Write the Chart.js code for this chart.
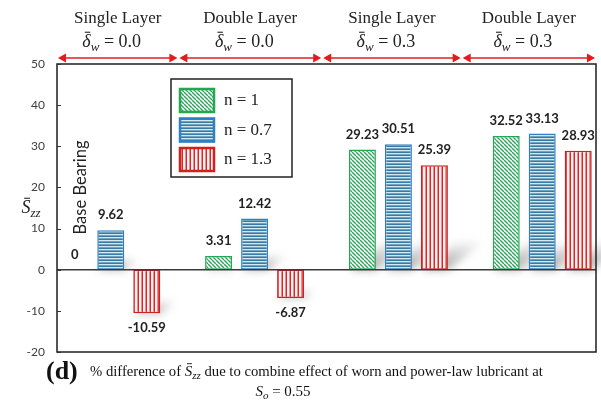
<!DOCTYPE html>
<html>
<head>
<meta charset="utf-8">
<script src="https://cdn.jsdelivr.net/npm/chart.js@4.4.1/dist/chart.umd.min.js"></script>
<style>
  html, body { margin: 0; padding: 0; background: #fff; }
  canvas { display: block; }
</style>
</head>
<body>
<canvas id="chart" width="601" height="406"></canvas>
<script>
// Section headers across the top (layer type and wear depth)
const sectionLayers = ['Single Layer', 'Double Layer', 'Single Layer', 'Double Layer'];
const sectionWear = ['0.0', '0.0', '0.3', '0.3'];

// Power-law index series: % difference of S_zz per section
const seriesNames = ['n = 1', 'n = 0.7', 'n = 1.3'];
const valuesN1 = [0, 3.31, 29.23, 32.52];
const valuesN07 = [9.62, 12.42, 30.51, 33.13];
const valuesN13 = [-10.59, -6.87, 25.39, 28.93];

// Value axis ticks
const yTicks = [-20, -10, 0, 10, 20, 30, 40, 50];

const SERIF = '"Liberation Serif", "Times New Roman", serif';
const SANS = 'Lato, "Open Sans", sans-serif';

const canvas = document.getElementById('chart');
const mainCtx = canvas.getContext('2d');

// Hatch fills for the three series
function makePattern(kind) {
  const t = document.createElement('canvas');
  const g = t.getContext('2d');
  if (kind === 'diag') {
    t.width = t.height = 4;
    g.fillStyle = '#ffffff';
    g.fillRect(0, 0, 4, 4);
    g.strokeStyle = '#2aa85a';
    g.lineWidth = 1.4;
    for (const k of [-4, 0, 4]) {
      g.beginPath(); g.moveTo(k, 0); g.lineTo(k + 4, 4); g.stroke();
    }
  } else if (kind === 'horiz') {
    t.width = 4; t.height = 3;
    g.fillStyle = '#d3e8ef';
    g.fillRect(0, 0, 4, 3);
    g.fillStyle = '#6fa3c0';
    g.fillRect(0, 1, 4, 1);
    g.fillStyle = '#3a7aa2';
    g.fillRect(0, 2, 4, 1);
  } else {
    t.width = 4; t.height = 4;
    g.fillStyle = '#fff3f3';
    g.fillRect(0, 0, 4, 4);
    g.fillStyle = '#f08a8a';
    g.fillRect(1, 0, 1, 4);
    g.fillStyle = '#de2424';
    g.fillRect(2, 0, 1, 4);
  }
  return mainCtx.createPattern(t, 'repeat');
}

const fills = [makePattern('diag'), makePattern('horiz'), makePattern('vert')];
const borders = ['#27a552', '#2f7fc6', '#d41f1f'];
const seriesValues = [valuesN1, valuesN07, valuesN13];

const datasets = seriesValues.map((vals, si) => ({
  label: seriesNames[si],
  data: vals.map((v, i) => ({ x: i, y: v })),
  backgroundColor: fills[si],
  borderColor: borders[si],
  borderWidth: 1.5,
  borderSkipped: false,
  categoryPercentage: 0.751,
  barPercentage: 0.75
}));

// Rich text: a run of differently styled pieces on one baseline;
// pieces flagged with `bar` get an overbar
function richWidth(ctx, parts) {
  let w = 0;
  for (const p of parts) { ctx.font = p.font; w += ctx.measureText(p.t).width; }
  return w;
}
function drawRich(ctx, parts, x, y, align) {
  const w = richWidth(ctx, parts);
  let cx = align === 'center' ? x - w / 2 : (align === 'right' ? x - w : x);
  ctx.textAlign = 'left';
  for (const p of parts) {
    ctx.font = p.font;
    const py = y + (p.dy || 0);
    ctx.fillText(p.t, cx, py);
    const pw = ctx.measureText(p.t).width;
    if (p.bar) {
      const lift = p.size * 0.82;
      ctx.save();
      ctx.strokeStyle = ctx.fillStyle;
      ctx.lineWidth = Math.max(0.9, p.size * 0.06);
      ctx.beginPath();
      ctx.moveTo(cx + pw * 0.3, py - lift);
      ctx.lineTo(cx + pw * 0.95, py - lift);
      ctx.stroke();
      ctx.restore();
    }
    cx += pw;
  }
}

// Soft perspective shadows cast from the foot of each bar
const shadowPlugin = {
  id: 'barShadows',
  beforeDatasetsDraw(chart) {
    const ctx = chart.ctx;
    ctx.save();
    ctx.filter = 'blur(4px)';
    chart.data.datasets.forEach((ds, di) => {
      chart.getDatasetMeta(di).data.forEach(bar => {
        const { x, y, base, width } = bar.getProps(['x', 'y', 'base', 'width'], true);
        const h = Math.abs(base - y);
        if (h < 1) return;
        const bottom = Math.max(y, base);
        const sh = Math.min(h * 0.3, 30);
        const sk = sh * 1.25;
        const l = x - width / 2, r = x + width / 2;
        const grad = ctx.createLinearGradient(0, bottom, 0, bottom - sh);
        grad.addColorStop(0, 'rgba(0,0,0,0.36)');
        grad.addColorStop(1, 'rgba(0,0,0,0)');
        ctx.fillStyle = grad;
        ctx.beginPath();
        ctx.moveTo(l, bottom);
        ctx.lineTo(r, bottom);
        ctx.lineTo(r + sk, bottom - sh);
        ctx.lineTo(l + sk, bottom - sh);
        ctx.closePath();
        ctx.fill();
      });
    });
    ctx.restore();
  }
};

// Frame, zero line, value labels, headers, legend and caption
const decorPlugin = {
  id: 'decor',
  afterDatasetsDraw(chart) {
    const ctx = chart.ctx;
    const { left, right, top, bottom } = chart.chartArea;
    const xs = chart.scales.x, ys = chart.scales.y;
    ctx.save();

    // zero line
    const y0 = ys.getPixelForValue(0);
    ctx.strokeStyle = '#3a3a3a';
    ctx.lineWidth = 1.5;
    ctx.beginPath(); ctx.moveTo(left, y0); ctx.lineTo(right, y0); ctx.stroke();

    // frame
    ctx.strokeStyle = '#1e1e1e';
    ctx.lineWidth = 1.5;
    ctx.strokeRect(left, top, right - left, bottom - top);

    // inward tick marks
    ctx.lineWidth = 1;
    ctx.strokeStyle = '#333';
    yTicks.forEach(v => {
      const py = Math.round(ys.getPixelForValue(v)) + 0.5;
      ctx.beginPath(); ctx.moveTo(left, py); ctx.lineTo(left + 4, py); ctx.stroke();
    });

    // value labels
    ctx.fillStyle = '#222';
    ctx.font = 'bold 13px ' + SANS;
    ctx.textAlign = 'center';
    ctx.textBaseline = 'middle';
    chart.data.datasets.forEach((ds, di) => {
      chart.getDatasetMeta(di).data.forEach((bar, i) => {
        const v = seriesValues[di][i];
        const txt = v === 0 ? '0' : v.toFixed(2);
        const py = v >= 0 ? bar.y - 15 : bar.y + 15;
        ctx.fillText(txt, bar.x, py);
      });
    });

    // reference case marker over the first group
    const baseBar = chart.getDatasetMeta(0).data[0];
    ctx.save();
    ctx.translate(baseBar.x + 6, ys.getPixelForValue(20));
    ctx.rotate(-Math.PI / 2);
    ctx.font = '16.5px ' + SANS;
    ctx.fillStyle = '#222';
    ctx.textAlign = 'center';
    ctx.textBaseline = 'middle';
    ctx.fillText('Base Bearing', 0, 0);
    ctx.restore();

    // y-axis title
    ctx.fillStyle = '#222';
    ctx.textBaseline = 'alphabetic';
    drawRich(ctx, [
      { t: 'S', font: 'italic 18px ' + SERIF, size: 18, bar: true },
      { t: 'zz', font: 'italic 13px ' + SERIF, dy: 4 }
    ], 31, 213, 'center');

    // section arrows and headers
    const splits = [0.47, 1.47, 2.44].map(v => xs.getPixelForValue(v));
    const edges = [left, ...splits, right];
    const ay = top - 6;
    ctx.strokeStyle = '#e31b1b';
    ctx.fillStyle = '#e31b1b';
    ctx.lineWidth = 1.5;
    for (let i = 0; i < 4; i++) {
      const s = edges[i] + 1, e = edges[i + 1] - 1;
      ctx.beginPath(); ctx.moveTo(s + 6, ay); ctx.lineTo(e - 6, ay); ctx.stroke();
      ctx.beginPath(); ctx.moveTo(s, ay); ctx.lineTo(s + 8, ay - 4.5); ctx.lineTo(s + 8, ay + 4.5); ctx.closePath(); ctx.fill();
      ctx.beginPath(); ctx.moveTo(e, ay); ctx.lineTo(e - 8, ay - 4.5); ctx.lineTo(e - 8, ay + 4.5); ctx.closePath(); ctx.fill();
    }
    ctx.fillStyle = '#222';
    for (let i = 0; i < 4; i++) {
      const cx = (edges[i] + edges[i + 1]) / 2;
      ctx.font = '17px ' + SERIF;
      ctx.textAlign = 'center';
      ctx.textBaseline = 'alphabetic';
      ctx.fillText(sectionLayers[i], cx, 23);
      drawRich(ctx, [
        { t: '\u03b4', font: 'italic 18px ' + SERIF, size: 18, bar: true },
        { t: 'w', font: 'italic 13px ' + SERIF, dy: 4 },
        { t: ' = ' + sectionWear[i], font: '18px ' + SERIF }
      ], cx - 6, 47, 'center');
    }

    // legend
    const lx = left + 114, ly = top + 15;
    ctx.fillStyle = '#fff';
    ctx.fillRect(lx, ly, 121, 98);
    ctx.strokeStyle = '#222';
    ctx.lineWidth = 1.5;
    ctx.strokeRect(lx, ly, 121, 98);
    chart.data.datasets.forEach((ds, di) => {
      const sy = ly + 9 + di * 29.5;
      ctx.fillStyle = ds.backgroundColor;
      ctx.fillRect(lx + 8, sy, 36, 25);
      ctx.strokeStyle = ds.borderColor;
      ctx.lineWidth = 2.5;
      ctx.strokeRect(lx + 9, sy + 1, 34, 23);
      ctx.fillStyle = '#222';
      ctx.font = '17px ' + SERIF;
      ctx.textAlign = 'left';
      ctx.textBaseline = 'middle';
      ctx.fillText(ds.label, lx + 53, sy + 13);
    });

    // caption
    ctx.fillStyle = '#111';
    ctx.textBaseline = 'alphabetic';
    ctx.textAlign = 'left';
    ctx.font = 'bold 26px ' + SERIF;
    ctx.fillText('(d)', 46, 379);
    drawRich(ctx, [
      { t: '% difference of ', font: '14.7px ' + SERIF },
      { t: 'S', font: 'italic 15px ' + SERIF, size: 15, bar: true },
      { t: 'zz', font: 'italic 11px ' + SERIF, dy: 3 },
      { t: ' due to combine effect of worn and power-law lubricant at', font: '14.7px ' + SERIF }
    ], 90, 376, 'left');
    drawRich(ctx, [
      { t: 'S', font: 'italic 15px ' + SERIF },
      { t: 'o', font: 'italic 11px ' + SERIF, dy: 3 },
      { t: ' = 0.55', font: '15px ' + SERIF }
    ], 283, 396, 'center');

    ctx.restore();
  }
};

new Chart(mainCtx, {
  type: 'bar',
  data: { datasets },
  options: {
    responsive: false,
    devicePixelRatio: 1,
    animation: false,
    layout: { padding: { left: 0, right: 5, top: 64, bottom: 54 } },
    plugins: { legend: { display: false }, tooltip: { enabled: false } },
    scales: {
      x: {
        type: 'linear',
        display: false,
        offset: false,
        min: -0.374,
        max: 3.374,
        afterBuildTicks: s => { s.ticks = []; }
      },
      y: {
        min: yTicks[0],
        max: yTicks[yTicks.length - 1],
        grid: { display: false, drawTicks: false },
        border: { display: false },
        ticks: {
          stepSize: 10,
          padding: 12,
          color: '#404040',
          font: { family: 'Lato', size: 12 }
        },
        afterFit: s => { s.width = 57; }
      }
    }
  },
  plugins: [shadowPlugin, decorPlugin]
});
</script>
</body>
</html>
